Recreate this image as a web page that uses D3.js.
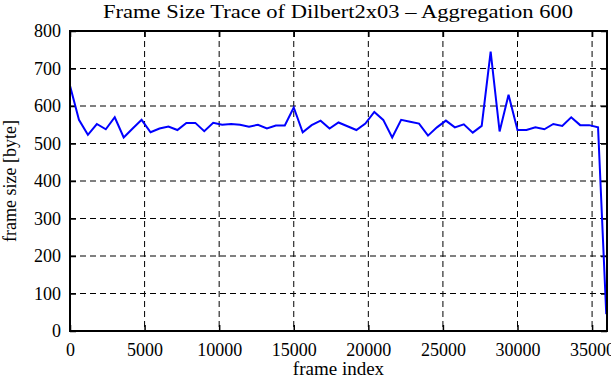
<!DOCTYPE html>
<html>
<head>
<meta charset="utf-8">
<script src="https://cdn.jsdelivr.net/npm/d3@7"></script>
<style>
  body { margin: 0; background: #fff; overflow: hidden; }
  svg text { font-family: "Liberation Serif", "DejaVu Serif", serif; fill: #000; }
</style>
</head>
<body>
<div id="chart"></div>
<script>
// frame index step = 600 (aggregation)
const frameIndex = d3.range(0, 36000, 600).concat([35950]);
const frameSize = [
  654, 563, 523, 552, 538, 570, 516, 540, 563, 530,
  540, 545, 536, 555, 555, 533, 555, 550, 552, 550,
  545, 550, 540, 548, 548, 596, 530, 549, 561, 540,
  556, 546, 536, 553, 584, 563, 516, 563, 558, 553,
  521, 543, 561, 543, 551, 529, 547, 745, 532, 630,
  536, 536, 543, 538, 552, 547, 570, 549, 549, 543,
  45
];
const xTicks = [0, 5000, 10000, 15000, 20000, 25000, 30000, 35000];
const yTicks = [0, 100, 200, 300, 400, 500, 600, 700, 800];

const width = 611, height = 380;
const margin = { top: 31, right: 4, bottom: 49, left: 70 };
const iw = width - margin.left - margin.right;
const ih = height - margin.top - margin.bottom;

const svg = d3.select("#chart").append("svg")
    .attr("width", width)
    .attr("height", height);

const x = d3.scaleLinear().domain([0, 36000]).range([0, iw]);
const y = d3.scaleLinear().domain([0, 800]).range([ih, 0]);

const g = svg.append("g").attr("transform", `translate(${margin.left},${margin.top})`);

// grid
g.append("g").selectAll("line")
    .data(yTicks.slice(1, -1))
    .enter().append("line")
    .attr("x1", 0).attr("x2", iw)
    .attr("y1", d => y(d)).attr("y2", d => y(d))
    .attr("stroke", "#000").attr("stroke-width", 1)
    .attr("stroke-dasharray", "6,4");
g.append("g").selectAll("line")
    .data(xTicks.slice(1))
    .enter().append("line")
    .attr("x1", d => x(d)).attr("x2", d => x(d))
    .attr("y1", 0).attr("y2", ih)
    .attr("stroke", "#000").attr("stroke-width", 1)
    .attr("stroke-dasharray", "6,4");

// axes (inward ticks, mirrored on all sides)
const tick = 6;
g.append("g")
    .attr("transform", `translate(0,${ih})`)
    .call(d3.axisBottom(x).tickValues(xTicks).tickSizeInner(-tick).tickSizeOuter(0).tickPadding(12).tickFormat(d3.format("d")))
    .call(a => a.select(".domain").remove())
    .call(a => a.selectAll("text").attr("font-size", 18));
g.append("g")
    .call(d3.axisTop(x).tickValues(xTicks).tickSizeInner(-tick).tickSizeOuter(0).tickFormat(""))
    .call(a => a.select(".domain").remove());
g.append("g")
    .call(d3.axisLeft(y).tickValues(yTicks).tickSizeInner(-tick).tickSizeOuter(0).tickPadding(9).tickFormat(d3.format("d")))
    .call(a => a.select(".domain").remove())
    .call(a => a.selectAll("text").attr("font-size", 18));
g.append("g")
    .attr("transform", `translate(${iw},0)`)
    .call(d3.axisRight(y).tickValues(yTicks).tickSizeInner(-tick).tickSizeOuter(0).tickFormat(""))
    .call(a => a.select(".domain").remove());
g.selectAll(".tick line").attr("stroke-width", 1.5);

// data line
const line = d3.line()
    .x((d, i) => x(frameIndex[i]))
    .y(d => y(d));
g.append("path")
    .datum(frameSize)
    .attr("fill", "none")
    .attr("stroke", "#0000ff")
    .attr("stroke-width", 2)
    .attr("d", line);

// frame
g.append("rect")
    .attr("width", iw).attr("height", ih)
    .attr("fill", "none").attr("stroke", "#000").attr("stroke-width", 2);

// labels
svg.append("text")
    .attr("x", 338).attr("y", 18)
    .attr("text-anchor", "middle").attr("font-size", 18)
    .attr("textLength", 470).attr("lengthAdjust", "spacingAndGlyphs")
    .text("Frame Size Trace of Dilbert2x03 \u2013 Aggregation 600");
svg.append("text")
    .attr("x", margin.left + iw / 2).attr("y", 375)
    .attr("text-anchor", "middle").attr("font-size", 19)
    .text("frame index");
svg.append("text")
    .attr("transform", `translate(16,${margin.top + ih / 2}) rotate(-90)`)
    .attr("text-anchor", "middle").attr("font-size", 18)
    .text("frame size [byte]");
</script>
</body>
</html>
